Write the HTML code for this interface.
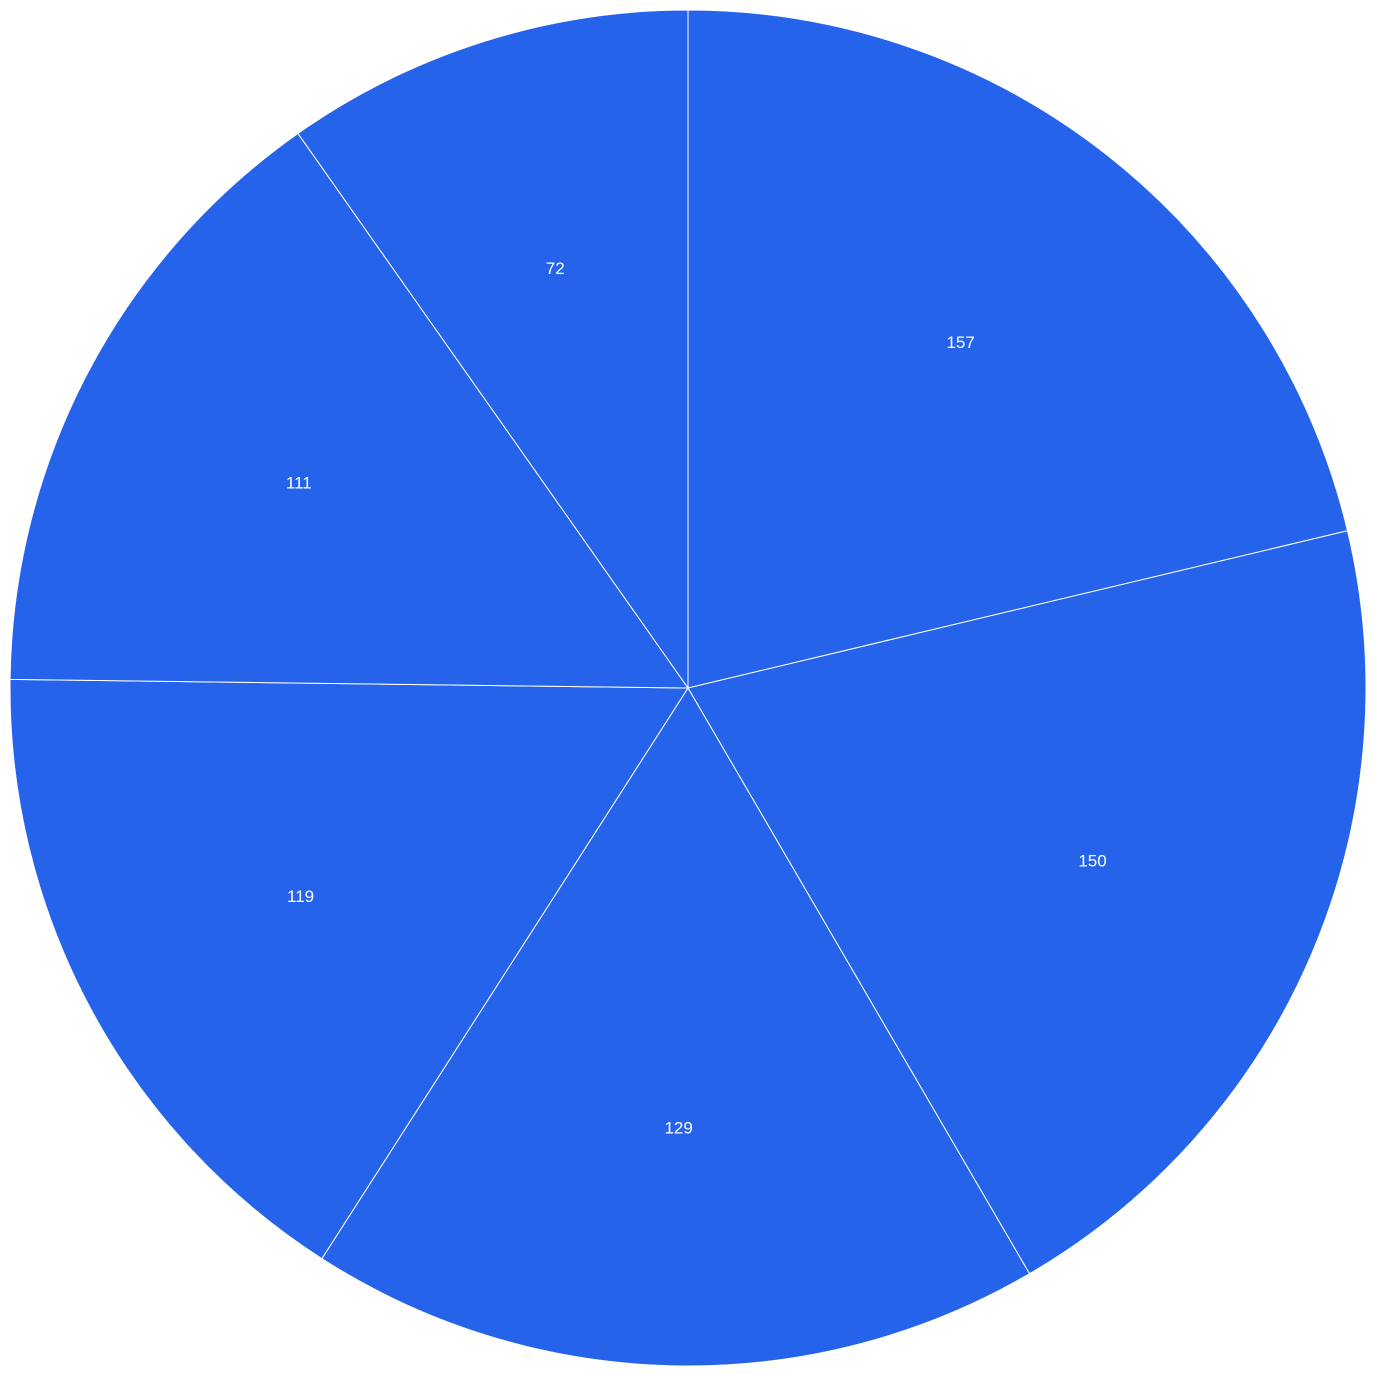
<!DOCTYPE html>
<html><head><meta charset="utf-8"><style>
html,body{margin:0;padding:0;background:#fff;}
svg{display:block;}
</style></head><body>
<svg id="chart" width="1376" height="1376" viewBox="0 0 1376 1376" xmlns="http://www.w3.org/2000/svg"></svg>
<script>
const categories = ["A","B","C","D","E","F"];
const values = [157,150,129,119,111,72];
const labels = ["157","150","129","119","111","72"];

const svg = document.getElementById('chart');
const NS = 'http://www.w3.org/2000/svg';
const cx = 688, cy = 688, R = 678, LR = 440;
const total = values.reduce((a,b)=>a+b,0);
function pt(angle, r){ return [cx + r*Math.sin(angle), cy - r*Math.cos(angle)]; }
let a0 = 0;
values.forEach((v,i)=>{
  const a1 = a0 + v/total*2*Math.PI;
  const p0 = pt(a0,R), p1 = pt(a1,R);
  const large = (a1-a0) > Math.PI ? 1 : 0;
  const path = document.createElementNS(NS,'path');
  path.setAttribute('d',`M${cx},${cy} L${p0[0]},${p0[1]} A${R},${R} 0 ${large} 1 ${p1[0]},${p1[1]} Z`);
  path.setAttribute('fill','#2563eb');
  path.setAttribute('stroke','#ffffff');
  path.setAttribute('stroke-width','1');
  
  
  svg.appendChild(path);
  const m = (a0+a1)/2;
  const lp = pt(m, LR);
  const t = document.createElementNS(NS,'text');
  t.setAttribute('x',lp[0]);
  t.setAttribute('y',lp[1]);
  t.setAttribute('text-anchor','middle');
  t.setAttribute('dominant-baseline','central');
  t.setAttribute('fill','#ffffff');
  t.setAttribute('font-family','"Liberation Sans", sans-serif');
  t.setAttribute('font-size','17');
  
  
  t.textContent = labels[i];
  svg.appendChild(t);
  a0 = a1;
});
</script>
</body></html>
